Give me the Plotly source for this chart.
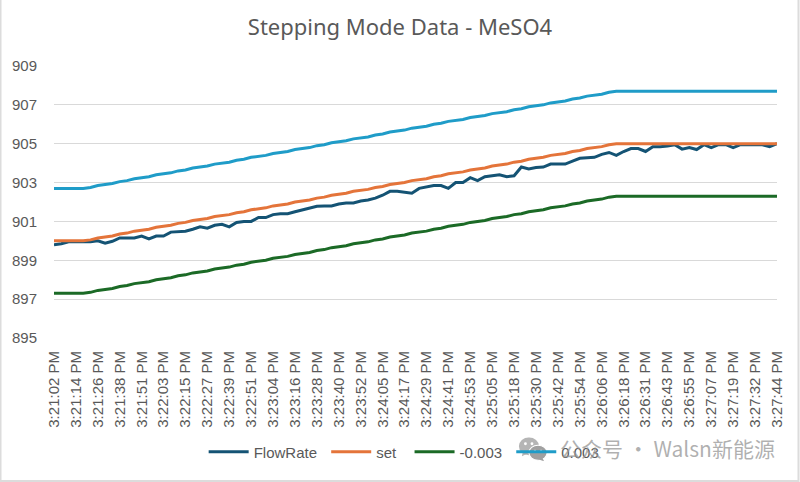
import base64
import plotly.graph_objects as go

# time labels on the axis, one for every third sample
time_labels = [
    "3:21:02 PM", "3:21:14 PM", "3:21:26 PM", "3:21:38 PM", "3:21:51 PM",
    "3:22:03 PM", "3:22:15 PM", "3:22:27 PM", "3:22:39 PM", "3:22:51 PM",
    "3:23:04 PM", "3:23:16 PM", "3:23:28 PM", "3:23:40 PM", "3:23:52 PM",
    "3:24:05 PM", "3:24:17 PM", "3:24:29 PM", "3:24:41 PM", "3:24:53 PM",
    "3:25:05 PM", "3:25:18 PM", "3:25:30 PM", "3:25:42 PM", "3:25:54 PM",
    "3:26:06 PM", "3:26:18 PM", "3:26:31 PM", "3:26:43 PM", "3:26:55 PM",
    "3:27:07 PM", "3:27:19 PM", "3:27:32 PM", "3:27:44 PM",
]
samples = list(range(100))

flow_rate = [
    899.80, 899.85, 899.95, 899.95, 899.95, 899.95, 900.00, 899.88, 899.98, 900.15,
    900.15, 900.15, 900.25, 900.10, 900.25, 900.25, 900.45, 900.48, 900.50, 900.60,
    900.72, 900.65, 900.80, 900.85, 900.72, 900.95, 901.00, 901.00, 901.20, 901.20,
    901.35, 901.40, 901.40, 901.50, 901.60, 901.72, 901.78, 901.80, 901.80, 901.90,
    901.95, 901.95, 902.05, 902.10, 902.20, 902.35, 902.55, 902.55, 902.50, 902.45,
    902.70, 902.78, 902.85, 902.85, 902.70, 903.00, 903.00, 903.25, 903.10, 903.30,
    903.35, 903.40, 903.30, 903.35, 903.80, 903.70, 903.78, 903.80, 903.95, 903.95,
    903.95, 904.10, 904.25, 904.28, 904.30, 904.45, 904.55, 904.40, 904.60, 904.75,
    904.75, 904.60, 904.85, 904.85, 904.88, 904.95, 904.72, 904.80, 904.70, 904.95,
    904.80, 904.95, 904.95, 904.80, 904.95, 904.95, 904.95, 904.95, 904.85, 905.00,
]
set_point = [
    900.00, 900.00, 900.00, 900.00, 900.00, 900.05, 900.15, 900.20, 900.25, 900.35,
    900.40, 900.50, 900.55, 900.60, 900.70, 900.75, 900.80, 900.90, 900.95, 901.05,
    901.10, 901.15, 901.25, 901.30, 901.35, 901.45, 901.50, 901.60, 901.65, 901.70,
    901.80, 901.85, 901.90, 902.00, 902.05, 902.10, 902.20, 902.25, 902.35, 902.40,
    902.45, 902.55, 902.60, 902.65, 902.75, 902.80, 902.90, 902.95, 903.00, 903.10,
    903.15, 903.20, 903.30, 903.35, 903.45, 903.50, 903.55, 903.65, 903.70, 903.75,
    903.85, 903.90, 903.95, 904.05, 904.10, 904.20, 904.25, 904.30, 904.40, 904.45,
    904.50, 904.60, 904.65, 904.75, 904.80, 904.85, 904.95, 905.00, 905.00, 905.00,
    905.00, 905.00, 905.00, 905.00, 905.00, 905.00, 905.00, 905.00, 905.00, 905.00,
    905.00, 905.00, 905.00, 905.00, 905.00, 905.00, 905.00, 905.00, 905.00, 905.00,
]
lower_limit = [
    897.30, 897.30, 897.30, 897.30, 897.30, 897.35, 897.45, 897.50, 897.55, 897.65,
    897.70, 897.80, 897.85, 897.90, 898.00, 898.05, 898.10, 898.20, 898.25, 898.35,
    898.40, 898.45, 898.55, 898.60, 898.65, 898.75, 898.80, 898.90, 898.95, 899.00,
    899.10, 899.15, 899.20, 899.30, 899.35, 899.40, 899.50, 899.55, 899.65, 899.70,
    899.75, 899.85, 899.90, 899.95, 900.05, 900.10, 900.20, 900.25, 900.30, 900.40,
    900.45, 900.50, 900.60, 900.65, 900.75, 900.80, 900.85, 900.95, 901.00, 901.05,
    901.15, 901.20, 901.25, 901.35, 901.40, 901.50, 901.55, 901.60, 901.70, 901.75,
    901.80, 901.90, 901.95, 902.05, 902.10, 902.15, 902.25, 902.30, 902.30, 902.30,
    902.30, 902.30, 902.30, 902.30, 902.30, 902.30, 902.30, 902.30, 902.30, 902.30,
    902.30, 902.30, 902.30, 902.30, 902.30, 902.30, 902.30, 902.30, 902.30, 902.30,
]
upper_limit = [
    902.70, 902.70, 902.70, 902.70, 902.70, 902.75, 902.85, 902.90, 902.95, 903.05,
    903.10, 903.20, 903.25, 903.30, 903.40, 903.45, 903.50, 903.60, 903.65, 903.75,
    903.80, 903.85, 903.95, 904.00, 904.05, 904.15, 904.20, 904.30, 904.35, 904.40,
    904.50, 904.55, 904.60, 904.70, 904.75, 904.80, 904.90, 904.95, 905.05, 905.10,
    905.15, 905.25, 905.30, 905.35, 905.45, 905.50, 905.60, 905.65, 905.70, 905.80,
    905.85, 905.90, 906.00, 906.05, 906.15, 906.20, 906.25, 906.35, 906.40, 906.45,
    906.55, 906.60, 906.65, 906.75, 906.80, 906.90, 906.95, 907.00, 907.10, 907.15,
    907.20, 907.30, 907.35, 907.45, 907.50, 907.55, 907.65, 907.70, 907.70, 907.70,
    907.70, 907.70, 907.70, 907.70, 907.70, 907.70, 907.70, 907.70, 907.70, 907.70,
    907.70, 907.70, 907.70, 907.70, 907.70, 907.70, 907.70, 907.70, 907.70, 907.70,
]


def svg_source(svg):
    return "data:image/svg+xml;base64," + base64.b64encode(svg.encode()).decode()


# watermark logo, two overlapping speech bubbles
logo_svg = (
    '<svg xmlns="http://www.w3.org/2000/svg" width="28" height="24" viewBox="0 0 28 24">'
    '<g fill="#a8a8a8" fill-opacity="0.85">'
    '<ellipse cx="10" cy="9" rx="10" ry="9"/><path d="M4 14 L3 19 L9 16 Z"/></g>'
    '<ellipse cx="19" cy="15.5" rx="9" ry="7.5" fill="#a0a0a0" stroke="white" stroke-width="1"/>'
    '<path d="M23 20 L25 24 L19 22 Z" fill="#a0a0a0"/>'
    '<g fill="white"><circle cx="6.5" cy="6.5" r="1.4"/><circle cx="13" cy="6.5" r="1.4"/>'
    '<circle cx="16" cy="13.5" r="1.1"/><circle cx="22" cy="13.5" r="1.1"/></g></svg>'
)
# thin grey edge around the picture
frame_svg = (
    '<svg xmlns="http://www.w3.org/2000/svg" width="800" height="482" viewBox="0 0 800 482">'
    '<path d="M0.5 0 V481 H798.5 V0" fill="none" stroke="#dcdcdc" stroke-width="2"/></svg>'
)

fig = go.Figure()
for name, values, color in [
    ("FlowRate\u00a0", flow_rate, "#145374"),
    ("set\u00a0\u00a0", set_point, "#E4743A"),
    ("-0.003\u00a0", lower_limit, "#1B6A26"),
    ("0.003", upper_limit, "#1F9CC8"),
]:
    fig.add_trace(go.Scatter(x=samples, y=values, mode="lines", name=name,
                             line=dict(color=color, width=3)))

fig.update_layout(
    width=800,
    height=482,
    margin=dict(l=54, r=23, t=66, b=144),
    paper_bgcolor="white",
    plot_bgcolor="white",
    font=dict(family="Liberation Sans", size=15, color="#595959"),
    title=dict(text="Stepping Mode Data - MeSO4", x=0.5, y=0.943, xanchor="center", yanchor="middle",
               font=dict(family="Noto Sans", size=22, color="#595959")),
    legend=dict(orientation="h", x=0.207, y=-0.419, xanchor="left", yanchor="middle",
                itemwidth=40, bgcolor="rgba(0,0,0,0)", font=dict(size=15, color="#595959")),
    xaxis=dict(range=[0, 99], tickmode="array", tickvals=samples[::3], ticktext=time_labels,
               tickangle=-90, showgrid=False, zeroline=False, ticks="", ticklabelstandoff=9,
               tickfont=dict(size=15)),
    yaxis=dict(range=[895, 909], dtick=2, tick0=895, gridcolor="#D9D9D9", gridwidth=1.3,
               zeroline=False, ticks="", ticklabelstandoff=16, tickfont=dict(size=15)),
    images=[
        dict(source=svg_source(logo_svg), xref="paper", yref="paper", layer="above",
             x=0.643, y=-0.365, sizex=0.039, sizey=0.088, xanchor="left", yanchor="top",
             sizing="stretch"),
        dict(source=svg_source(frame_svg), xref="paper", yref="paper", layer="below",
             x=-54 / 723, y=1 + 66 / 272, sizex=800 / 723, sizey=482 / 272,
             xanchor="left", yanchor="top", sizing="stretch"),
    ],
)

# watermark
fig.add_annotation(text="公众号 · Walsn新能源", xref="paper", yref="paper", x=1.0, y=-0.405,
                   xanchor="right", yanchor="middle", showarrow=False,
                   font=dict(family="Noto Sans CJK SC", size=21, color="rgba(150,150,150,0.75)"))

fig.write_html("out.html", post_script="document.body.style.margin='0';",
               config=dict(displayModeBar=False))
